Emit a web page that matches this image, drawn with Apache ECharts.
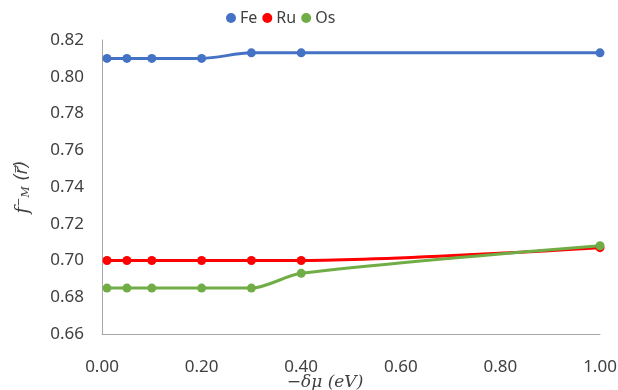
<!DOCTYPE html>
<html>
<head>
<meta charset="utf-8">
<script src="https://cdn.jsdelivr.net/npm/echarts@6/dist/echarts.min.js"></script>
<style>
  html, body { margin: 0; padding: 0; background: #fff; }
  #chart { width: 618px; height: 390px; }
</style>
</head>
<body>
<div id="chart"></div>
<script>
// chemical potential shift (eV)
const deltaMu = [0.01, 0.05, 0.1, 0.2, 0.3, 0.4, 1.0];
const fe = [0.810, 0.810, 0.810, 0.810, 0.813, 0.813, 0.813];
const ru = [0.700, 0.700, 0.700, 0.700, 0.700, 0.700, 0.707];
const os = [0.685, 0.685, 0.685, 0.685, 0.685, 0.693, 0.708];

const seriesNames = ["Fe", "Ru", "Os"];
const colors = ["#4472c4", "#ff0000", "#70ad47"];

const chart = echarts.init(document.getElementById("chart"));

function pairs(ys) {
    return deltaMu.map((x, i) => [x, ys[i]]);
}

const font = "'Noto Sans', sans-serif";
const serif = "'DejaVu Serif', serif";
const textColor = "#404040";

const options = {
    animation: false,
    textStyle: { fontFamily: font },
    legend: {
        top: 5,
        left: 221,
        icon: "circle",
        itemWidth: 10,
        itemHeight: 10,
        itemGap: 5,
        textStyle: { fontSize: 16, color: textColor, fontFamily: font, padding: [0, 0, 0, -1] },
        data: seriesNames,
    },
    grid: {
        left: 102,
        right: 18,
        top: 40,
        bottom: 56,
        outerBoundsMode: "none",
        containLabel: false,
    },
    xAxis: {
        type: "value",
        min: 0,
        max: 1,
        interval: 0.2,
        name: "\u2212{i|\u03b4\u03bc} {i|(eV)}",
        nameLocation: "middle",
        nameGap: 40,
        nameMoveOverlap: false,
        nameTextStyle: {
            fontSize: 17,
            color: textColor,
            fontFamily: serif,
            verticalAlign: "top",
            padding: [0, 52, 0, 0],
            rich: {
                i: { fontSize: 17, fontStyle: "italic", fontFamily: serif, color: textColor },
            },
        },
        axisLine: { show: true, lineStyle: { color: "#a6a6a6", width: 1 } },
        axisTick: { show: false },
        splitLine: { show: false },
        axisLabel: {
            fontSize: 17,
            color: textColor,
            margin: 25,
            formatter: (v) => v.toFixed(2),
        },
    },
    yAxis: {
        type: "value",
        min: 0.66,
        max: 0.82,
        interval: 0.02,
        name: "{f|f}{sup|\u2212}{sub|M}{r| (r\u20d7)}",
        nameLocation: "middle",
        nameGap: 70,
        nameRotate: 90,
        nameMoveOverlap: false,
        nameTextStyle: {
            color: textColor,
            rich: {
                f: { fontSize: 18, fontStyle: "italic", fontFamily: serif, color: textColor },
                sup: { fontSize: 11, verticalAlign: "top", fontFamily: serif, color: textColor },
                sub: { fontSize: 11, fontStyle: "italic", verticalAlign: "bottom", fontFamily: serif, color: textColor },
                r: { fontSize: 17, fontStyle: "italic", fontFamily: "'DejaVu Sans', sans-serif", color: textColor },
            },
        },
        axisLine: { show: true, lineStyle: { color: "#a6a6a6", width: 1 } },
        axisTick: { show: false },
        splitLine: { show: false },
        axisLabel: {
            fontSize: 17,
            color: textColor,
            margin: 18,
            formatter: (v) => v.toFixed(2),
        },
    },
    series: [fe, ru, os].map((ys, i) => ({
        name: seriesNames[i],
        type: "line",
        smooth: 0.3,
        symbol: "circle",
        symbolSize: 9,
        lineStyle: { width: 3, color: colors[i] },
        itemStyle: { color: colors[i] },
        data: pairs(ys),
    })),
};

chart.setOption(options, true);
</script>
</body>
</html>
